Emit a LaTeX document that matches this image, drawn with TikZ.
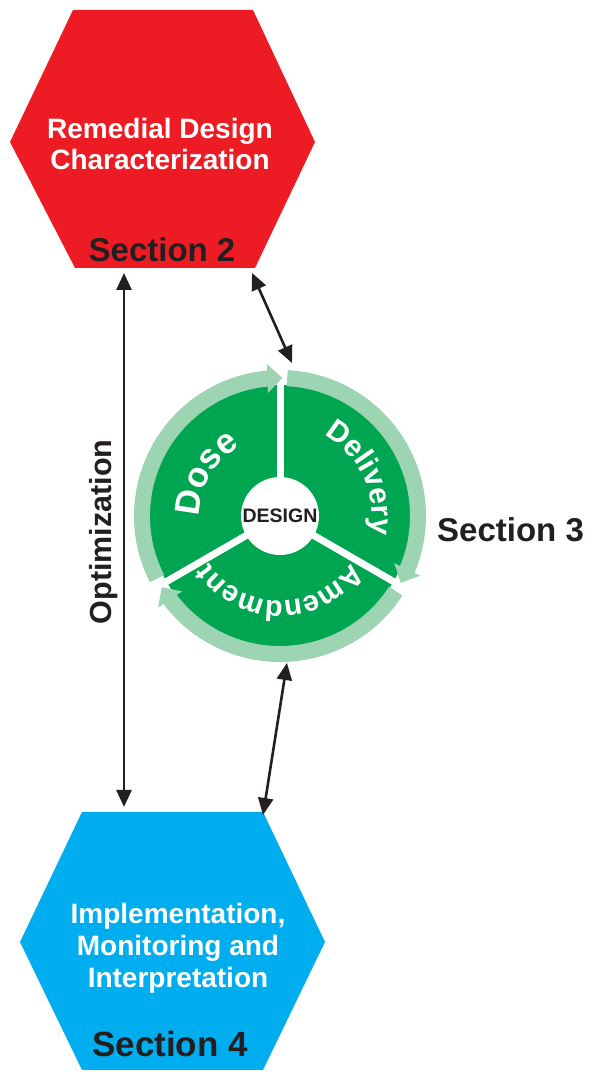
\documentclass[tikz,border=0pt]{standalone}
\usepackage{fontspec}
\setmainfont{Liberation Sans}
\usetikzlibrary{arrows.meta,decorations.text,bending,calc}
\definecolor{hexred}{HTML}{ED1C24}
\definecolor{hexblue}{HTML}{00AEEF}
\definecolor{dgreen}{HTML}{00A551}
\definecolor{lgreen}{HTML}{9DD4B1}
\definecolor{ink}{HTML}{231F20}
\newcommand{\myfs}[2]{\fontsize{#1}{#2}\selectfont\bfseries}
\newcommand{\dosefont}{\fontsize{35}{40}\selectfont\bfseries}
\newcommand{\delfont}{\fontsize{30}{34}\selectfont\bfseries}
\newcommand{\amdfont}{\fontsize{29}{33}\selectfont\bfseries}
\begin{document}
\begin{tikzpicture}[x=1pt,y=1pt,
  dbl/.style={{Triangle[length=17pt,width=15pt]}-{Triangle[length=17pt,width=15pt]}, line width=2.6pt, draw=ink},
  ringarc/.style={draw=lgreen, line width=16pt, -{Triangle[length=15pt,width=28pt]}},
  spoke/.style={draw=white, line width=7pt},
  lbl/.style={inner sep=0pt},
  arctext/.style={decorate, decoration={text along path, text align=center, text color=white}}]
\useasboundingbox (0,0) rectangle (596,1074);
% hexagons
\fill[hexred] (73,1064) -- (253,1064) -- (315,932) -- (255,806) -- (75,806) -- (10,932) -- cycle;
\fill[hexblue] (82,262) -- (263,262) -- (325,132) -- (263,4) -- (82,4) -- (20,132) -- cycle;
% hexagon texts
\node[lbl, white, font=\myfs{28}{31}, align=center] (rdc) at (160,929.5) {Remedial Design\\Characterization};
\node[lbl, ink, font=\myfs{33}{38}, anchor=base] (s2) at (162,812) {Section 2};
\node[lbl, white, font=\myfs{28}{32}, align=center] (imi) at (178,126) {Implementation,\\Monitoring and\\Interpretation};
\node[lbl, ink, font=\myfs{35}{40}, anchor=base] (s4) at (170,17) {Section 4};
\node[lbl, ink, font=\myfs{33}{38}, anchor=base west] (s3) at (437,532) {Section 3};
\node[lbl, ink, font=\myfs{30.5}{36}, rotate=90] (opt) at (103.5,542) {Optimization};
% design wheel
\coordinate (c) at (280,558);
\fill[dgreen] (c) circle[radius=131];
\foreach \a in {90,210,330} \draw[spoke] (c) -- ($(c)+(\a:133)$);
\draw[ringarc] ($(c)+(87:138)$) arc[start angle=87, end angle=-29, radius=138];
\draw[ringarc] ($(c)+(-33:138)$) arc[start angle=-33, end angle=-149, radius=138];
\draw[ringarc] ($(c)+(207:138)$) arc[start angle=207, end angle=89, radius=138];
\fill[white] (c) circle[radius=39];
\node[lbl, ink, font=\myfs{19.5}{22}] (design) at (c) {DESIGN};
\path[arctext, decoration={text={|\dosefont|Dose}}] ($(c)+(220:80.5)$) arc[start angle=220, end angle=80, radius=80.5];
\path[arctext, decoration={text={|\delfont|Delivery}}] ($(c)+(95:92)$) arc[start angle=95, end angle=-45, radius=92];
\path[arctext, decoration={text={|\amdfont|Amendment}}] ($(c)+(0:85)$) arc[start angle=0, end angle=-180, radius=85];
% connectors
\coordinate (a1t) at (124,801);
\coordinate (a1b) at (124,267);
\coordinate (a2t) at (252,801);
\coordinate (a2b) at (292,711);
\coordinate (a3t) at (287,411);
\coordinate (a3b) at (263,259);
\draw[dbl] (a1t) -- (a1b);
\draw[dbl] (a2t) -- (a2b);
\draw[dbl] (a3t) -- (a3b);
\end{tikzpicture}
\end{document}
